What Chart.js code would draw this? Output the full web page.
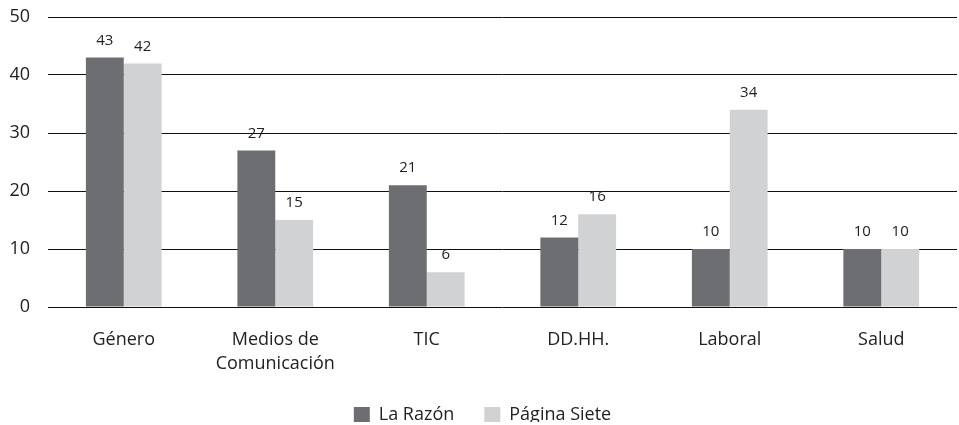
<!DOCTYPE html>
<html>
<head>
<meta charset="utf-8">
<script src="https://cdn.jsdelivr.net/npm/chart.js@4.4.1/dist/chart.umd.min.js"></script>
<style>
html,body{margin:0;padding:0;background:#fff;}
#wrap{width:959px;height:425px;position:relative;}
</style>
</head>
<body>
<div id="wrap"><canvas id="c" width="959" height="425"></canvas></div>
<script>
const categories = ["Género", ["Medios de", "Comunicación"], "TIC", "DD.HH.", "Laboral", "Salud"];
const laRazon = [43, 27, 21, 12, 10, 10];
const paginaSiete = [42, 15, 6, 16, 34, 10];
const seriesNames = ["La Razón", "Página Siete"];
const yTicks = [0, 10, 20, 30, 40, 50];

const FONT = "'Open Sans', sans-serif";

const valueLabels = {
  id: 'valueLabels',
  afterDatasetsDraw(chart) {
    const ctx = chart.ctx;
    ctx.save();
    ctx.font = "15px " + FONT;
    ctx.fillStyle = "#222";
    ctx.textAlign = "center";
    ctx.textBaseline = "middle";
    chart.data.datasets.forEach((ds, i) => {
      const meta = chart.getDatasetMeta(i);
      meta.data.forEach((bar, j) => {
        ctx.fillText(String(ds.data[j]), bar.x, bar.y - 17);
      });
    });
    ctx.restore();
  }
};

const legendHeightFix = {
  id: 'legendHeightFix',
  afterInit(chart) {
    const leg = chart.legend;
    if (!leg) return;
    const origFit = leg.fit.bind(leg);
    leg.fit = function () {
      origFit();
      this.height = 46;
    };
    const origDraw = leg.draw.bind(leg);
    leg.draw = function () {
      const ctx = this.ctx;
      ctx.save();
      ctx.translate(0, -3);
      origDraw();
      ctx.restore();
    };
  }
};

new Chart(document.getElementById('c'), {
  type: 'bar',
  data: {
    labels: categories,
    datasets: [
      { label: seriesNames[0], data: laRazon, backgroundColor: "#6d6e71", categoryPercentage: 0.5, barPercentage: 1.0 },
      { label: seriesNames[1], data: paginaSiete, backgroundColor: "#d1d2d4", categoryPercentage: 0.5, barPercentage: 1.0 }
    ]
  },
  options: {
    responsive: false,
    animation: false,
    layout: { padding: { top: 0, right: 2, left: 8, bottom: 0 } },
    plugins: {
      legend: {
        position: 'bottom',
        labels: {
          font: { family: FONT, size: 18 },
          color: "#222",
          boxWidth: 16,
          boxHeight: 16,
          padding: 30
        }
      },
      tooltip: { enabled: false }
    },
    scales: {
      x: {
        grid: { display: false, drawTicks: false },
        border: { display: false },
        afterFit(scale) { scale.paddingLeft = 0; scale.paddingRight = 0; scale.height = 72; },
        ticks: {
          font: { family: FONT, size: 18, lineHeight: 1.33 },
          color: "#222",
          padding: 21,
          maxRotation: 0
        }
      },
      y: {
        min: 0, max: 50,
        afterBuildTicks(axis) { axis.ticks = yTicks.map(v => ({ value: v })); },
        afterFit(scale) { scale.paddingTop = 17; scale.paddingBottom = 0; scale.width = 40; },
        grid: { color: "#111", lineWidth: 1, drawTicks: false },
        border: { display: false },
        ticks: {
          font: { family: FONT, size: 18 },
          color: "#222",
          padding: 18
        }
      }
    }
  },
  plugins: [valueLabels, legendHeightFix]
});
</script>
</body>
</html>
